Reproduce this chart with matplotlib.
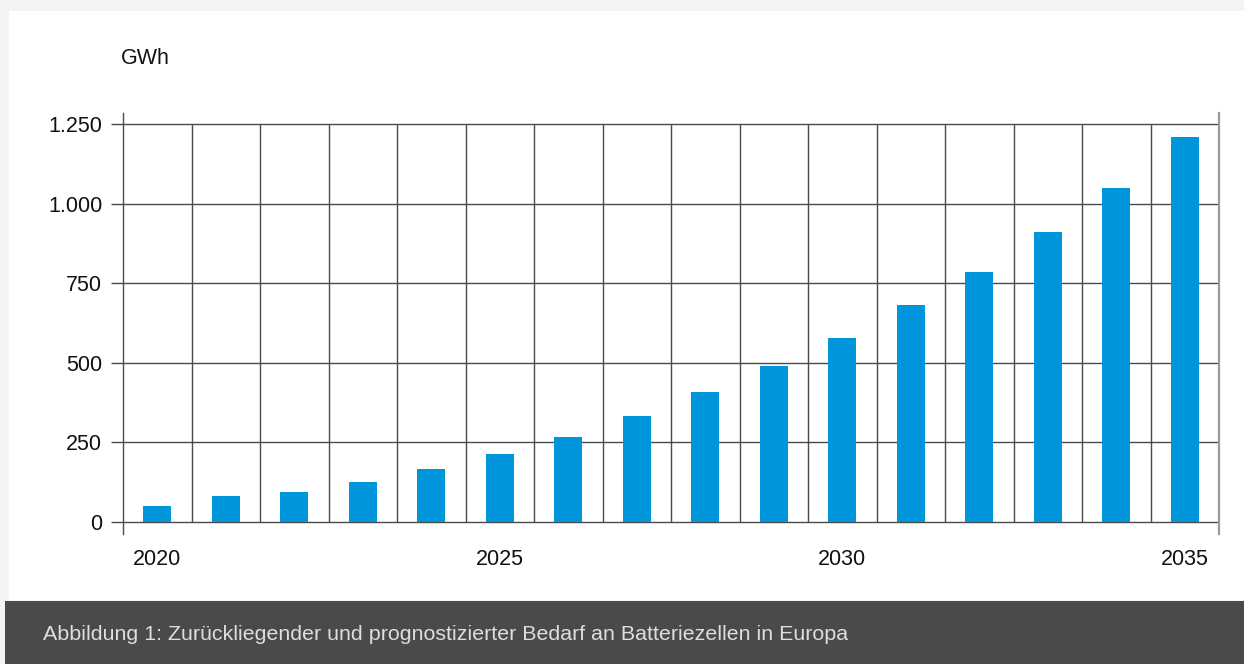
import matplotlib
matplotlib.use("Agg")
import matplotlib.pyplot as plt
from matplotlib.patches import Rectangle

years = list(range(2020, 2036))
demand_gwh = [50, 82, 93, 126, 166, 213, 267, 332, 408, 489, 579, 683, 786, 911, 1049, 1210]
year_labels = ["2020", "2025", "2030", "2035"]
label_years = [2020, 2025, 2030, 2035]
y_ticks = [0, 250, 500, 750, 1000, 1250]
y_tick_labels = ["0", "250", "500", "750", "1.000", "1.250"]
unit_label = "GWh"
caption = "Abbildung 1: Zurückliegender und prognostizierter Bedarf an Batteriezellen in Europa"

W, H = 1244, 664
fig = plt.figure(figsize=(W / 100, H / 100), dpi=100)
fig.patch.set_facecolor("#f4f4f4")
plt.rcParams["font.family"] = ["Liberation Sans", "DejaVu Sans"]

# white panel
fig.add_artist(Rectangle((9 / W, (H - 600) / H), (W - 9) / W, (600 - 11) / H,
                         transform=fig.transFigure, facecolor="white", edgecolor="none", zorder=0))
# caption band
fig.add_artist(Rectangle((5 / W, 0), (W - 5) / W, (H - 601) / H,
                         transform=fig.transFigure, facecolor="#4a4a49", edgecolor="none", zorder=0))
fig.text(43 / W, (H - 635) / H, caption, color="#dedede", fontsize=15.4,
         family=["Liberation Sans", "DejaVu Sans"], va="center", ha="left")

ax = fig.add_axes([123 / W, (H - 534) / H, (1219 - 123) / W, (534 - 113) / H])
ax.set_facecolor("none")
n = len(years)
xs = list(range(n))
ax.set_xlim(-0.5, n - 0.5)
ax.set_ylim(-37.7, 1284.5)

grid_c = "#4a4a4a"
ax.hlines(y_ticks, -0.5, n - 0.5, color=grid_c, lw=1.0, zorder=1)
ax.vlines([i + 0.5 for i in range(n - 1)], 0, 1250, color=grid_c, lw=1.0, zorder=1)

ax.bar(xs, demand_gwh, width=0.41, color="#0096db", zorder=2)

for s in ["top", "bottom"]:
    ax.spines[s].set_visible(False)
ax.spines["left"].set_color("#4a4a4a")
ax.spines["left"].set_linewidth(1.0)
ax.spines["right"].set_color("#9a9a9a")
ax.spines["right"].set_linewidth(1.6)

ax.set_yticks(y_ticks)
ax.set_yticklabels(y_tick_labels)
ax.tick_params(axis="y", length=9, width=1.0, color="#4a4a4a", pad=6, labelsize=15.5, labelcolor="#111111")
ax.set_xticks([years.index(y) for y in label_years])
ax.set_xticklabels(year_labels)
ax.tick_params(axis="x", length=0, pad=11, labelsize=15.5, labelcolor="#111111")

fig.text(121 / W, (H - 58) / H, unit_label, fontsize=15.5, color="#111111", va="center", ha="left")

fig.savefig("out.png", dpi=100, facecolor=fig.get_facecolor())
